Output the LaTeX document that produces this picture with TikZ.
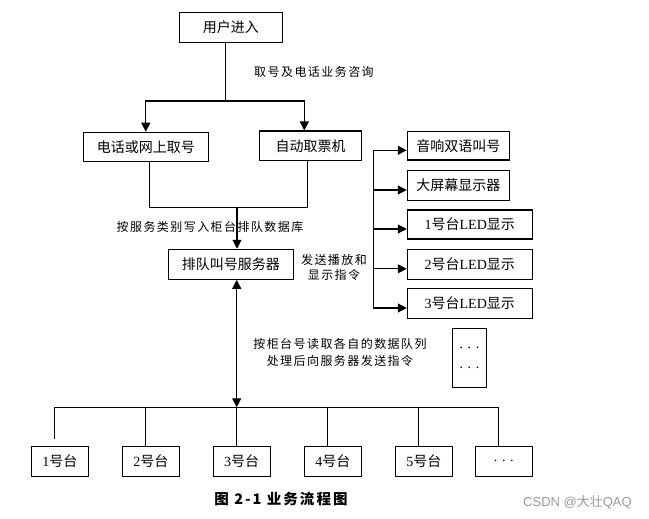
\documentclass[tikz,border=0pt]{standalone}
\usepackage{fontspec}
\setmainfont{Liberation Serif}
\newfontfamily\cjk{Noto Sans CJK SC}
\newfontfamily\cjklab{Noto Sans CJK SC}[LetterSpace=12]
\newfontfamily\cjkcap{Noto Sans CJK SC}[LetterSpace=14]
\newfontfamily\wmfont{Liberation Sans}
\usetikzlibrary{arrows.meta}
\newcommand{\zh}[1]{{\cjk #1}}
\begin{document}
\begin{tikzpicture}[x=1pt,y=-1pt,
  box/.style={draw, line width=1.1pt, inner sep=0pt, font=\fontsize{14}{16}\selectfont},
  lab/.style={inner sep=0pt, font=\cjklab\fontsize{12}{15}\selectfont, align=center},
  ln/.style={line width=1.1pt},
  arr/.style={ln, -{Triangle[length=9pt,width=9pt]}},
  darr/.style={ln, {Triangle[length=9pt,width=9pt]}-{Triangle[length=9pt,width=9pt]}}]
\useasboundingbox (0,0) rectangle (649,519);

% top part
\node[box, minimum width=103pt, minimum height=30pt] (user) at (230.8,27.3) {\zh{用户进入}};
\node[box, minimum width=125pt, minimum height=29pt] (phone) at (145.8,146.8) {\zh{电话或网上取号}};
\node[box, minimum width=102.4pt, minimum height=29.3pt] (auto) at (310.5,145.7) {\zh{自动取票机}};
\node[box, minimum width=125pt, minimum height=30pt] (server) at (230.8,264.3) {\zh{排队叫号服务器}};

% right boxes
\node[box, minimum width=102pt, minimum height=28.5pt] (r1) at (458.3,145.8) {\zh{音响双语叫号}};
\node[box, minimum width=102pt, minimum height=29.6pt] (r2) at (458.3,185.5) {\zh{大屏幕显示器}};
\node[box, minimum width=125pt, minimum height=29pt] (r3) at (469.8,224.5) {1\zh{号台}LED\zh{显示}};
\node[box, minimum width=125pt, minimum height=30pt] (r4) at (469.8,264.3) {2\zh{号台}LED\zh{显示}};
\node[box, minimum width=125pt, minimum height=29.6pt] (r5) at (469.8,303.5) {3\zh{号台}LED\zh{显示}};
\node[box, minimum width=34.4pt, minimum height=59pt, align=center, font=\fontsize{14}{18}\selectfont] (dots) at (469.5,357.8) {.\,\,.\,\,.\\[2pt].\,\,.\,\,.};

% counters
\foreach \i/\x/\t in {1/59.8/1\zh{号台}, 2/150.8/2\zh{号台}, 3/241.7/3\zh{号台}, 4/332.8/4\zh{号台}, 5/423.8/5\zh{号台}, 6/503.8/.\,\,.\,\,.}
  \node[box, minimum width=57pt, minimum height=30pt] (c\i) at (\x,461.3) {\t};

% labels
\node[lab] (l1) at (314,72.3) {取号及电话业务咨询};
\node[lab] (l2) at (210,226.7) {按服务类别写入柜台排队数据库};
\node[lab] (l3) at (334,267.5) {发送播放和\\显示指令};
\node[lab, font=\cjklab\fontsize{12}{17}\selectfont] (l4) at (340,352) {按柜台号读取各自的数据队列\\处理后向服务器发送指令};
\node[inner sep=0pt, font=\cjkcap\bfseries\fontsize{14.5}{16}\selectfont] (cap) at (281,499.3) {图 2-1 业务流程图};
\node[inner sep=0pt, text=black!40, font=\wmfont\fontsize{13}{15}\selectfont] (wm) at (577.5,502.3) {CSDN @\zh{大壮}QAQ};

% junctions
\coordinate (j1) at (225.7,101);
\coordinate (j2) at (237,207.7);
\coordinate (j3) at (236.7,407.3);
\coordinate (t) at (373.3,0);

% connectors top
\draw[ln] (user.south -| j1) -- (j1);
\draw[arr] (j1) -| (phone.north);
\draw[arr] (j1) -| ([xshift=-6.2pt]auto.north);
\draw[ln] ([xshift=3.5pt]phone.south) |- (j2);
\draw[ln] ([xshift=-3.2pt]auto.south) |- (j2);
\draw[arr] (j2) -- (server.north -| j2);
\draw[darr] (server.south -| j3) -- (j3);

% bus to counters
\draw[ln] ([xshift=-5.5pt,yshift=6.3pt]c1.north) |- (j3) -| ([xshift=-5.5pt]c6.north);
\foreach \i in {2,3,4,5}
  \draw[ln] ([xshift=-5.5pt]c\i.north) -- ([xshift=-5.5pt]c\i.north |- j3);

% right trunk
\draw[ln] ([yshift=-4.8pt]r1.west -| t) -- ([yshift=-4.5pt]r5.west -| t);
\foreach \r in {r1,r2,r3,r4,r5}
  \draw[arr] ([yshift=-4.5pt]\r.west -| t) -- ([yshift=-4.5pt]\r.west);
\end{tikzpicture}
\end{document}
